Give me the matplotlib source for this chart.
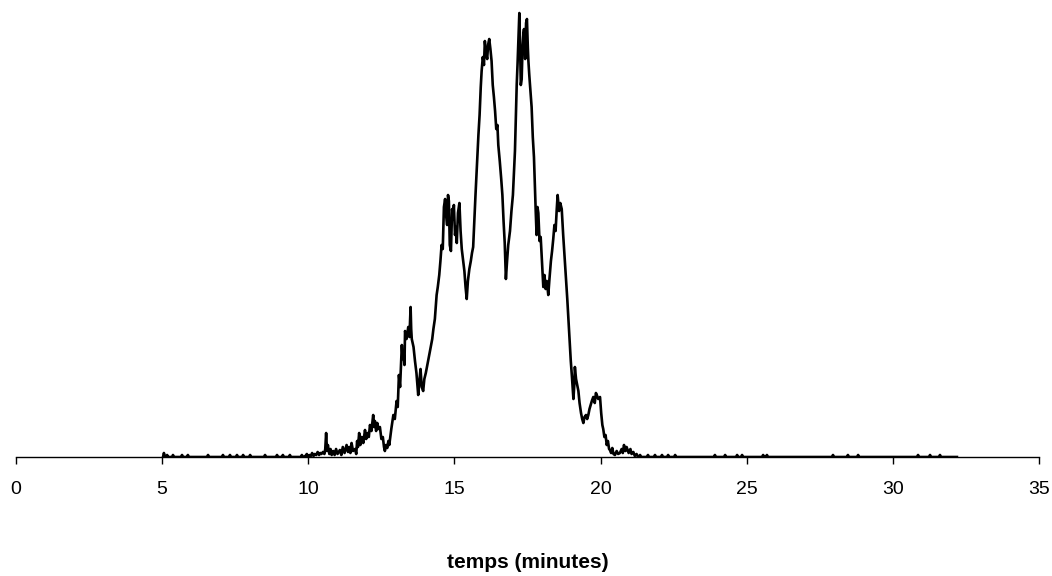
import matplotlib
matplotlib.use('Agg')
import matplotlib.pyplot as plt

# ligne de base avant le pic (temps en minutes, intensite arbitraire)
base_g_t = [5.03, 5.06, 5.10, 5.14, 5.17, 5.21, 5.34, 5.37, 5.41, 5.64,
            5.68, 5.72, 5.84, 5.88, 5.92, 6.53, 6.57, 6.61, 7.04, 7.08,
            7.12, 7.28, 7.32, 7.36, 7.52, 7.56, 7.60, 7.73, 7.77, 7.81,
            7.97, 8.01, 8.05, 8.48, 8.52, 8.56, 8.89, 8.93, 8.97, 9.09,
            9.13, 9.17, 9.33, 9.37, 9.41, 9.74, 9.78, 9.82, 9.90, 9.95,
            10.00, 10.05, 10.09, 10.13, 10.18, 10.22, 10.27, 10.32, 10.37, 10.41,
            10.45, 10.50]
base_g_y = [0, 4, 0, 0, 2, 0, 0, 2, 0, 0,
            2, 0, 0, 2, 0, 0, 2, 0, 0, 2,
            0, 0, 2, 0, 0, 2, 0, 0, 2, 0,
            0, 2, 0, 0, 2, 0, 0, 2, 0, 0,
            2, 0, 0, 2, 0, 0, 2, 0, 1, 3,
            0, 2, 1, 4, 1, 3, 2, 5, 2, 4,
            3, 5]

# le pic
pic_t = [10.55, 10.58, 10.61, 10.64, 10.67, 10.72, 10.76, 10.80, 10.85, 10.90,
         10.95, 11.00, 11.08, 11.13, 11.18, 11.24, 11.31, 11.36, 11.40, 11.44,
         11.48, 11.53, 11.60, 11.64, 11.67, 11.70, 11.74, 11.78, 11.83, 11.88,
         11.94, 11.98, 12.03, 12.07, 12.11, 12.16, 12.22, 12.25, 12.28, 12.32,
         12.36, 12.40, 12.45, 12.50, 12.55, 12.59, 12.62, 12.66, 12.70, 12.74,
         12.77, 12.84, 12.91, 12.96, 13.02, 13.06, 13.10, 13.14, 13.20, 13.23,
         13.26, 13.29, 13.31, 13.36, 13.42, 13.46, 13.50, 13.52, 13.54, 13.60,
         13.65, 13.70, 13.76, 13.80, 13.84, 13.88, 13.93, 13.97, 14.02, 14.06,
         14.11, 14.15, 14.20, 14.24, 14.28, 14.33, 14.39, 14.43, 14.48, 14.52,
         14.56, 14.60, 14.64, 14.68, 14.72, 14.75, 14.78, 14.81, 14.84, 14.88,
         14.92, 14.95, 14.98, 15.02, 15.05, 15.08, 15.12, 15.17, 15.21, 15.25,
         15.30, 15.34, 15.38, 15.42, 15.46, 15.51, 15.56, 15.60, 15.64, 15.68,
         15.72, 15.78, 15.82, 15.86, 15.90, 15.93, 15.97, 16.01, 16.04, 16.08,
         16.12, 16.15, 16.19, 16.23, 16.27, 16.31, 16.35, 16.39, 16.43, 16.47,
         16.50, 16.55, 16.60, 16.64, 16.68, 16.72, 16.76, 16.80, 16.84, 16.90,
         16.95, 17.00, 17.04, 17.07, 17.10, 17.13, 17.16, 17.19, 17.22, 17.25,
         17.27, 17.30, 17.33, 17.36, 17.38, 17.42, 17.45, 17.48, 17.51, 17.53,
         17.56, 17.60, 17.64, 17.68, 17.72, 17.75, 17.78, 17.81, 17.84, 17.87,
         17.91, 17.95, 17.98, 18.01, 18.04, 18.08, 18.12, 18.16, 18.21, 18.25,
         18.30, 18.34, 18.38, 18.42, 18.46, 18.50, 18.53, 18.55, 18.58, 18.62,
         18.67, 18.72, 18.78, 18.82, 18.86, 18.92, 18.98, 19.02, 19.07, 19.10,
         19.12, 19.16, 19.20, 19.24, 19.28, 19.33, 19.37, 19.41, 19.45, 19.50,
         19.54, 19.58, 19.62, 19.66, 19.70, 19.75, 19.80, 19.84, 19.87, 19.92,
         19.98, 20.02, 20.06, 20.09, 20.13, 20.17, 20.21, 20.25, 20.29, 20.32,
         20.36, 20.40, 20.44, 20.49, 20.55, 20.60, 20.66, 20.72, 20.76, 20.80,
         20.85, 20.89, 20.96, 21.02, 21.06, 21.12, 21.17, 21.23]
pic_y = [3, 8, 24, 6, 12, 3, 8, 2, 6, 2,
         8, 3, 7, 2, 10, 4, 12, 5, 10, 4,
         14, 6, 8, 3, 16, 10, 24, 12, 20, 14,
         27, 18, 24, 20, 32, 26, 42, 30, 36, 26,
         34, 28, 30, 18, 20, 10, 6, 12, 9, 16,
         12, 28, 42, 38, 56, 50, 82, 70, 112, 98,
         104, 92, 126, 118, 130, 120, 150, 128, 118, 110,
         96, 84, 62, 76, 88, 70, 66, 78, 84, 90,
         98, 104, 112, 118, 128, 138, 162, 170, 182, 196,
         212, 208, 250, 258, 240, 232, 262, 256, 212, 206,
         248, 238, 252, 222, 230, 214, 244, 254, 226, 208,
         196, 186, 170, 158, 176, 188, 196, 204, 210, 236,
         262, 298, 322, 342, 370, 386, 400, 392, 416, 404,
         398, 412, 418, 408, 396, 372, 360, 346, 328, 332,
         312, 296, 278, 262, 236, 214, 178, 196, 212, 226,
         246, 262, 288, 306, 340, 372, 394, 420, 444, 404,
         372, 378, 410, 424, 428, 398, 434, 438, 410, 396,
         382, 366, 350, 320, 300, 272, 246, 222, 250, 244,
         216, 220, 204, 186, 170, 182, 168, 176, 162, 178,
         196, 206, 218, 232, 226, 248, 262, 256, 246, 254,
         248, 222, 194, 176, 158, 126, 96, 80, 58, 72,
         90, 78, 72, 66, 54, 44, 38, 34, 40, 42,
         38, 42, 48, 52, 56, 60, 54, 64, 62, 58,
         60, 44, 32, 28, 20, 22, 12, 16, 8, 7,
         4, 9, 3, 2, 6, 3, 4, 8, 4, 12,
         6, 10, 4, 8, 3, 5, 1, 3]

# ligne de base apres le pic
base_d_t = [21.28, 21.31, 21.35, 21.39, 21.58, 21.62, 21.66, 21.82, 21.86, 21.90,
            22.06, 22.10, 22.14, 22.27, 22.31, 22.35, 22.51, 22.55, 22.59, 23.87,
            23.91, 23.95, 24.22, 24.26, 24.30, 24.63, 24.67, 24.71, 24.80, 24.84,
            24.88, 25.52, 25.56, 25.60, 25.65, 25.69, 25.73, 27.91, 27.95, 27.99,
            28.42, 28.46, 28.50, 28.77, 28.81, 28.85, 30.82, 30.86, 30.90, 31.23,
            31.27, 31.31, 31.57, 31.61, 31.65, 32.19]
base_d_y = [0, 0, 2, 0, 0, 2, 0, 0, 2, 0,
            0, 2, 0, 0, 2, 0, 0, 2, 0, 0,
            2, 0, 0, 2, 0, 0, 2, 0, 0, 2,
            0, 0, 2, 0, 0, 2, 0, 0, 2, 0,
            0, 2, 0, 0, 2, 0, 0, 2, 0, 0,
            2, 0, 0, 2, 0, 0]

xticks = [0, 5, 10, 15, 20, 25, 30, 35]

temps = base_g_t + pic_t + base_d_t
signal = base_g_y + pic_y + base_d_y

plt.rcParams['font.family'] = ['Liberation Sans', 'DejaVu Sans']

fig = plt.figure(figsize=(10.52, 5.76), dpi=100)
ax = fig.add_axes([0.0152, 0.2066, 0.9725, 0.776])

ax.plot(temps, signal, color='black', linewidth=1.9)

ax.set_xlim(0, 35)
ax.set_ylim(0, 447)
ax.set_xticks(xticks)
ax.set_xticklabels([str(t) for t in xticks])
ax.set_yticks([])
for s in ['left', 'right', 'top']:
    ax.spines[s].set_visible(False)
ax.spines['bottom'].set_linewidth(1.0)
ax.tick_params(axis='x', direction='out', length=5, width=1, labelsize=14, pad=12)
ax.set_xlabel('temps (minutes)', fontsize=15, fontweight='bold', labelpad=40)

fig.savefig('out.png', dpi=100)
